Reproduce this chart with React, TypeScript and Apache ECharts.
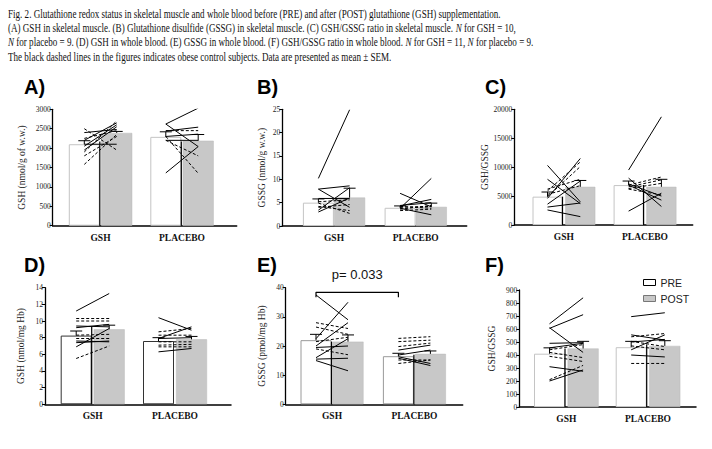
import React, { useEffect, useRef } from 'react';
import * as echarts from 'echarts';

const groups = ['GSH', 'PLACEBO'];

// ---------- Panel A: GSH in skeletal muscle ----------
const aBarPre = [2100, 2290];
const aBarPost = [2390, 2190];
const aSemPre = [90, 130];
const aSemPost = [40, 160];
const aEdge = [2170, 2170];
const aGshPre = [2400, 2100, 2200, 2050, 1950, 1900, 1580, 2500, 2250, 1800];
const aGshPost = [2480, 2100, 2650, 2600, 2550, 2700, 2350, 1950, 2450, 2300];
const aGshDash = [0, 0, 0, 0, 0, 1, 1, 1, 1, 1];
const aPlaPre = [2620, 2620, 1360, 2440, 2300, 2200, 2300, 2200, 2450];
const aPlaPost = [3030, 2040, 2040, 2540, 2360, 2200, 1350, 1800, 2450];
const aPlaDash = [0, 0, 0, 0, 0, 0, 1, 1, 1];

// ---------- Panel B: GSSG in skeletal muscle ----------
const bBarPre = [5.0, 3.9];
const bBarPost = [6.1, 4.1];
const bSemPre = [0.8, 0.4];
const bSemPost = [2.0, 0.8];
const bEdge = [0, 0];
const bGshPre = [10.2, 7.9, 7.9, 3.4, 5.9, 3.0, 4.9, 5.2, 4.2, 4.0];
const bGshPost = [24.9, 8.6, 4.0, 8.2, 5.9, 6.0, 2.7, 5.6, 3.3, 4.6];
const bGshDash = [0, 0, 0, 0, 0, 0, 1, 1, 1, 1];
const bPlaPre = [3.8, 7.0, 4.3, 3.8, 4.4, 4.2, 3.6, 4.0, 3.3];
const bPlaPost = [10.2, 4.1, 5.7, 2.4, 5.0, 3.8, 4.4, 4.2, 3.6];
const bPlaDash = [0, 0, 0, 0, 0, 1, 1, 1, 1];

// ---------- Panel C: GSH/GSSG in skeletal muscle ----------
const cBarPre = [4900, 6900];
const cBarPost = [6600, 6600];
const cSemPre = [800, 700];
const cSemPost = [1100, 1300];
const cEdge = [4900, 6900];
const cGshPre = [10300, 7900, 2600, 3100, 4600, 5900, 4900, 6200, 5300, 3600];
const cGshPost = [4000, 3700, 1450, 3800, 11500, 10900, 10100, 7900, 6800, 7600];
const cGshDash = [0, 0, 0, 0, 0, 1, 1, 1, 1, 0];
const cPlaPre = [9500, 8100, 2400, 6900, 7100, 6900, 6600, 6300, 6200];
const cPlaPost = [18700, 3200, 5500, 4300, 5000, 8300, 7800, 7200, 5200];
const cPlaDash = [0, 0, 0, 0, 0, 1, 1, 1, 1];

// ---------- Panel D: GSH in whole blood ----------
const dBarPre = [8.25, 7.6];
const dBarPost = [9.0, 7.8];
const dSemPre = [0.55, 0.4];
const dSemPost = [0.5, 0.35];
const dEdge = [9.3, 0];
const dGshPre = [11.2, 10.3, 10.0, 9.4, 9.2, 8.3, 7.9, 7.6, 7.4, 6.9, 5.5];
const dGshPost = [13.3, 10.3, 10.0, 9.3, 9.6, 8.4, 7.9, 7.5, 7.6, 9.1, 7.0];
const dGshDash = [0, 1, 1, 0, 0, 1, 1, 0, 0, 0, 1];
const dPlaPre = [10.4, 7.9, 8.7, 8.3, 7.9, 7.5, 7.1, 6.3, 6.9];
const dPlaPost = [8.9, 9.3, 9.1, 8.3, 8.0, 7.5, 7.2, 6.7, 6.9];
const dPlaDash = [0, 0, 1, 1, 0, 1, 1, 0, 1];

// ---------- Panel E: GSSG in whole blood ----------
const eBarPre = [22.0, 16.5];
const eBarPost = [21.5, 17.3];
const eSemPre = [2.0, 1.0];
const eSemPost = [2.3, 1.0];
const eEdge = [21.5, 17.0];
const eGshPre = [37.5, 22.5, 20.0, 28.0, 26.5, 21.5, 19.5, 16.0, 15.5, 15.0, 19.0];
const eGshPost = [29.0, 35.0, 28.0, 26.0, 24.0, 23.0, 20.0, 22.5, 15.8, 11.5, 17.0];
const eGshDash = [0, 0, 0, 1, 1, 1, 0, 0, 0, 0, 1];
const ePlaPre = [22.6, 21.5, 18.6, 19.8, 16.9, 16.3, 15.8, 15.2, 14.0];
const ePlaPost = [23.2, 22.0, 20.3, 21.0, 18.6, 14.0, 13.3, 15.2, 15.2];
const ePlaDash = [1, 1, 0, 1, 0, 0, 0, 1, 1];
const ePValue = 'p= 0.033';
const eBracket = [36.7, 38.4];

// ---------- Panel F: GSH/GSSG in whole blood ----------
const fBarPre = [410, 460];
const fBarPost = [450, 470];
const fSemPre = [45, 45];
const fSemPost = [55, 40];
const fEdge = [450, 480];
const fGshPre = [640, 605, 610, 490, 455, 440, 420, 390, 310, 200, 210];
const fGshPost = [840, 710, 420, 495, 490, 480, 380, 350, 275, 285, 320];
const fGshDash = [0, 0, 0, 0, 0, 1, 1, 1, 0, 0, 1];
const fPlaPre = [695, 555, 540, 500, 440, 505, 400, 335, 470];
const fPlaPost = [725, 515, 565, 520, 555, 465, 385, 335, 440];
const fPlaDash = [0, 0, 1, 0, 0, 1, 0, 1, 1];

const captionLines = [
  [{ t: 'Fig. 2. Glutathione redox status in skeletal muscle and whole blood before (PRE) and after (POST) glutathione (GSH) supplementation.' }],
  [{ t: '(A) GSH in skeletal muscle. (B) Glutathione disulfide (GSSG) in skeletal muscle. (C) GSH/GSSG ratio in skeletal muscle. ' }, { t: 'N', i: true }, { t: ' for GSH = 10,' }],
  [{ t: 'N', i: true }, { t: ' for placebo = 9. (D) GSH in whole blood. (E) GSSG in whole blood. (F) GSH/GSSG ratio in whole blood. ' }, { t: 'N', i: true }, { t: ' for GSH = 11, ' }, { t: 'N', i: true }, { t: ' for placebo = 9.' }],
  [{ t: 'The black dashed lines in the figures indicates obese control subjects. Data are presented as mean \u00b1 SEM.' }],
];

type Subj = { pre: number[]; post: number[]; dash: number[] };
type Panel = {
  letter: string; yName: string; yMax: number; yInt: number; nameGap: number; preBorder: string;
  L: number; R: number; T: number; B: number; c1: number; c2: number; h: number; w: number;
  lx: number; ly: number;
  barPre: number[]; barPost: number[]; semPre: number[]; semPost: number[]; edge: number[];
  subj: Subj[];
};

const panels: Panel[] = [
  { letter: 'A)', yName: 'GSH (nmol/g of w.w.)', yMax: 3000, yInt: 500, nameGap: 26, preBorder: '#c4c4c4',
    L: 52.7, R: 236.7, T: 109.3, B: 225.7, c1: 100.5, c2: 182, h: 16.2, w: 31, lx: 24, ly: 77,
    barPre: aBarPre, barPost: aBarPost, semPre: aSemPre, semPost: aSemPost, edge: aEdge,
    subj: [{ pre: aGshPre, post: aGshPost, dash: aGshDash }, { pre: aPlaPre, post: aPlaPost, dash: aPlaDash }] },
  { letter: 'B)', yName: 'GSSG (nmol/g w.w.)', yMax: 25, yInt: 5, nameGap: 15, preBorder: '#c4c4c4',
    L: 282.3, R: 466.7, T: 109.3, B: 226, c1: 334, c2: 415.7, h: 15.6, w: 31, lx: 257, ly: 77,
    barPre: bBarPre, barPost: bBarPost, semPre: bSemPre, semPost: bSemPost, edge: bEdge,
    subj: [{ pre: bGshPre, post: bGshPost, dash: bGshDash }, { pre: bPlaPre, post: bPlaPost, dash: bPlaDash }] },
  { letter: 'C)', yName: 'GSH/GSSG', yMax: 20000, yInt: 5000, nameGap: 21, preBorder: '#c4c4c4',
    L: 514.3, R: 692.7, T: 109.3, B: 225, c1: 563.9, c2: 645, h: 16.4, w: 30, lx: 485, ly: 77,
    barPre: cBarPre, barPost: cBarPost, semPre: cSemPre, semPost: cSemPost, edge: cEdge,
    subj: [{ pre: cGshPre, post: cGshPost, dash: cGshDash }, { pre: cPlaPre, post: cPlaPost, dash: cPlaDash }] },
  { letter: 'D)', yName: 'GSH (nmol/mg Hb)', yMax: 14, yInt: 2, nameGap: 19, preBorder: '#333333',
    L: 45, R: 231, T: 287.7, B: 404.3, c1: 92.7, c2: 175, h: 16.5, w: 31, lx: 24, ly: 255,
    barPre: dBarPre, barPost: dBarPost, semPre: dSemPre, semPost: dSemPost, edge: dEdge,
    subj: [{ pre: dGshPre, post: dGshPost, dash: dGshDash }, { pre: dPlaPre, post: dPlaPost, dash: dPlaDash }] },
  { letter: 'E)', yName: 'GSSG (pmol/mg Hb)', yMax: 40, yInt: 10, nameGap: 19, preBorder: '#9a9a9a',
    L: 285.7, R: 462.7, T: 287.7, B: 404.3, c1: 332, c2: 414.4, h: 16, w: 31, lx: 257, ly: 255,
    barPre: eBarPre, barPost: eBarPost, semPre: eSemPre, semPost: eSemPost, edge: eEdge,
    subj: [{ pre: eGshPre, post: eGshPost, dash: eGshDash }, { pre: ePlaPre, post: ePlaPost, dash: ePlaDash }] },
  { letter: 'F)', yName: 'GSH/GSSG', yMax: 900, yInt: 100, nameGap: 22, preBorder: '#c4c4c4',
    L: 519.3, R: 696, T: 290, B: 407, c1: 566.3, c2: 648, h: 16.8, w: 31, lx: 485, ly: 255,
    barPre: fBarPre, barPost: fBarPost, semPre: fSemPre, semPost: fSemPost, edge: fEdge,
    subj: [{ pre: fGshPre, post: fGshPost, dash: fGshDash }, { pre: fPlaPre, post: fPlaPost, dash: fPlaDash }] },
];

const SERIF = '"Liberation Serif", "Times New Roman", serif';
const SANS = '"Liberation Sans", Arial, sans-serif';

function buildOption() {
  const grid: any[] = [];
  const xAxis: any[] = [];
  const yAxis: any[] = [];
  const series: any[] = [];
  const graphic: any[] = [];

  panels.forEach((p, i) => {
    const unit = p.c2 - p.c1;
    const xMin = 1 - (p.c1 - p.L) / unit;
    const xMax = 2 + (p.R - p.c2) / unit;
    const off = p.h / unit;
    const edgeOff = (p.w / 2 - p.h) / unit;
    grid.push({ left: p.L, top: p.T, width: p.R - p.L, height: p.B - p.T, containLabel: false });
    xAxis.push({
      gridIndex: i, type: 'value', min: xMin, max: xMax,
      axisLine: { show: true, onZero: false, lineStyle: { color: '#000', width: 1.5 } },
      axisTick: { show: false }, splitLine: { show: false },
      axisLabel: {
        customValues: [1, 2],
        formatter: (v: number) => groups[Math.round(v) - 1] ?? '',
        fontFamily: SERIF, fontWeight: 'bold', fontSize: 9.5, color: '#111', margin: 7,
      },
    });
    yAxis.push({
      gridIndex: i, type: 'value', min: 0, max: p.yMax, interval: p.yInt,
      name: p.yName, nameLocation: 'middle', nameGap: p.nameGap, nameRotate: 90,
      nameTextStyle: { fontFamily: SERIF, fontSize: 9.5, color: '#222' },
      axisLine: { show: true, lineStyle: { color: '#000', width: 1.3 } },
      axisTick: { show: true, length: 3, lineStyle: { color: '#000', width: 1 } },
      splitLine: { show: false },
      axisLabel: { fontFamily: SERIF, fontSize: 7.5, color: '#222', margin: 2, formatter: (v: number) => String(v) },
    });
    series.push({
      type: 'bar', name: 'PRE', xAxisIndex: i, yAxisIndex: i, barWidth: p.w, barGap: '-100%',
      data: p.barPre.map((v, k) => [k + 1 - off, v]),
      itemStyle: { color: '#ffffff', borderColor: p.preBorder, borderWidth: 1 }, z: 1, silent: true,
    });
    series.push({
      type: 'bar', name: 'POST', xAxisIndex: i, yAxisIndex: i, barWidth: p.w, barGap: '-100%',
      data: p.barPost.map((v, k) => [k + 1 + off, v]),
      itemStyle: { color: '#c8c8c8', borderColor: '#b8b8b8', borderWidth: 0.5 }, z: 1, silent: true,
    });
    const errData: number[][] = [];
    p.barPre.forEach((v, k) => errData.push([k + 1 - off, v, v + p.semPre[k]]));
    p.barPost.forEach((v, k) => errData.push([k + 1 + off, v, v + p.semPost[k]]));
    series.push({
      type: 'custom', xAxisIndex: i, yAxisIndex: i, data: errData, z: 5, silent: true,
      renderItem: (_params: any, api: any) => {
        const a = api.coord([api.value(0), api.value(1)]);
        const b = api.coord([api.value(0), api.value(2)]);
        return {
          type: 'group',
          children: [
            { type: 'line', shape: { x1: a[0], y1: a[1], x2: b[0], y2: b[1] }, style: { stroke: '#000', lineWidth: 1 } },
            { type: 'line', shape: { x1: b[0] - 6, y1: b[1], x2: b[0] + 6, y2: b[1] }, style: { stroke: '#000', lineWidth: 1 } },
          ],
        };
      },
    });
    series.push({
      type: 'custom', xAxisIndex: i, yAxisIndex: i, z: 5, silent: true,
      data: p.edge.map((v, k) => [k + 1 + edgeOff, v]),
      renderItem: (_params: any, api: any) => {
        if (!api.value(1)) return null;
        const a = api.coord([api.value(0), 0]);
        const b = api.coord([api.value(0), api.value(1)]);
        return { type: 'line', shape: { x1: a[0], y1: a[1], x2: b[0], y2: b[1] }, style: { stroke: '#000', lineWidth: 1.2 } };
      },
    });
    p.subj.forEach((s, k) => {
      s.pre.forEach((v, j) => {
        series.push({
          type: 'line', xAxisIndex: i, yAxisIndex: i, silent: true, symbol: 'none', z: 4,
          data: [[k + 1 - off, v], [k + 1 + off, s.post[j]]],
          lineStyle: { color: '#000', width: 1, type: s.dash[j] ? [3, 2] : 'solid' },
        });
      });
    });
    if (i === 4) {
      series.push({
        type: 'line', xAxisIndex: i, yAxisIndex: i, silent: true, symbol: 'none', z: 4,
        data: [[1 - off, eBracket[0]], [1 - off, eBracket[1]], [2 - off, eBracket[1]], [2 - off, eBracket[0]]],
        lineStyle: { color: '#000', width: 1.2 },
      });
      graphic.push({
        type: 'text', x: (p.c1 + p.c2) / 2 - p.h, y: 274,
        style: { text: ePValue, font: `13px ${SANS}`, fill: '#111', textAlign: 'center', textVerticalAlign: 'middle' },
      });
    }
    graphic.push({
      type: 'text', x: p.lx, y: p.ly,
      style: { text: p.letter, font: `bold 20px ${SANS}`, fill: '#000' },
    });
  });

  captionLines.forEach((line, li) => {
    const rich: any = { n: { fontFamily: SERIF, fontSize: 12, fill: '#111' }, it: { fontFamily: SERIF, fontSize: 12, fontStyle: 'italic', fill: '#111' } };
    const text = line.map((seg: any) => `{${seg.i ? 'it' : 'n'}|${seg.t}}`).join('');
    graphic.push({
      type: 'text', x: 8, y: 8 + li * 14.2, scaleX: 0.755,
      style: { text, rich, fill: '#111' },
    });
  });

  return {
    animation: false,
    backgroundColor: '#ffffff',
    grid, xAxis, yAxis, series, graphic,
    legend: {
      data: [
        { name: 'PRE', itemStyle: { color: '#ffffff', borderColor: '#000', borderWidth: 1 } },
        { name: 'POST', itemStyle: { color: '#c8c8c8', borderColor: '#777', borderWidth: 1 } },
      ],
      orient: 'vertical', left: 638, top: 272, icon: 'rect', itemWidth: 12, itemHeight: 6, itemGap: 5,
      selectedMode: false,
      textStyle: { fontFamily: SANS, fontSize: 10.5, color: '#222' },
    },
  };
}

export default function App() {
  const ref = useRef<HTMLDivElement>(null);
  useEffect(() => {
    if (!ref.current) return;
    const chart = echarts.init(ref.current, undefined, { renderer: 'svg' });
    chart.setOption(buildOption() as any);
    return () => chart.dispose();
  }, []);
  return <div ref={ref} style={{ position: 'fixed', left: 0, top: 0, width: 712, height: 449, background: '#fff' }} />;
}
